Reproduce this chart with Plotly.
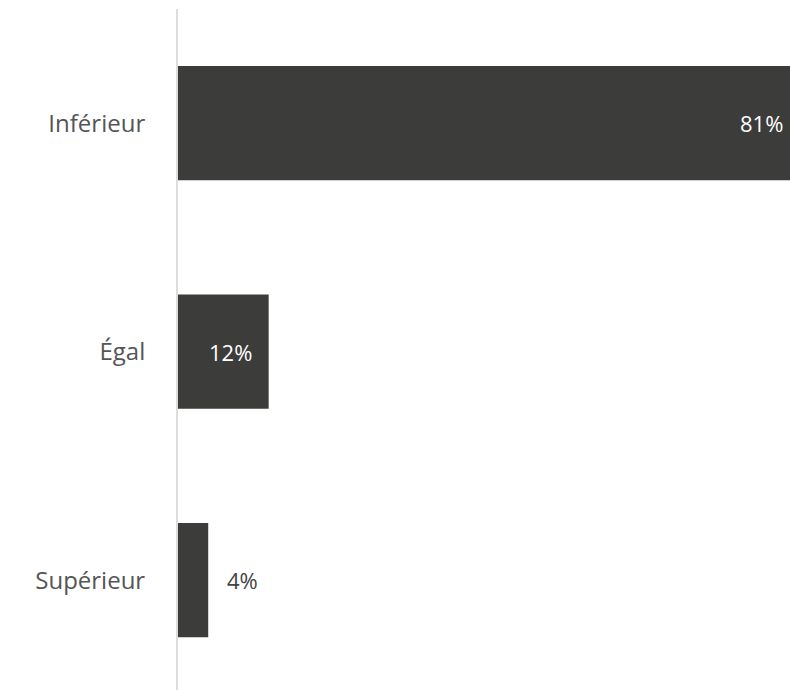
import plotly.graph_objects as go

categories = ["Inférieur", "Égal", "Supérieur"]
values = [81, 12, 4]
label_inside = [True, True, False]
label_shift = [-5, -15, 17]

bar_color = "#3c3c3a"
font_family = "'Open Sans', 'Noto Sans', sans-serif"

fig = go.Figure()
fig.add_trace(go.Bar(
    x=values, y=categories, orientation="h",
    marker=dict(color=bar_color, line=dict(width=0)),
    hoverinfo="skip",
))

for cat, v, inside, sh in zip(categories, values, label_inside, label_shift):
    fig.add_annotation(
        x=v, y=cat, text=f"{v}%", showarrow=False,
        xanchor="right" if inside else "left", xshift=sh,
        font=dict(family=font_family, size=22, color="#ffffff" if inside else "#444444"),
    )

fig.update_layout(
    width=790, height=690,
    margin=dict(l=178, r=0, t=9, b=0),
    paper_bgcolor="white", plot_bgcolor="white",
    bargap=0.5, showlegend=False,
    font=dict(family=font_family, size=22, color="#555555"),
    xaxis=dict(range=[0, 81], visible=False, fixedrange=True),
    yaxis=dict(
        categoryorder="array", categoryarray=categories,
        range=[2.481, -0.5],
        showline=True, linecolor="#dddddd", linewidth=2,
        showgrid=False, zeroline=False, ticks="",
        ticklabelstandoff=26,
        tickfont=dict(family=font_family, size=24, color="#555555"),
    ),
)

post = (
    "document.body.style.margin='0';"
    "document.body.style.padding='0';"
    "document.body.style.overflow='hidden';"
    "var gd=document.getElementById('{plot_id}');"
    "Plotly.relayout(gd,{width:790,height:690});"
)

fig.write_html("out.html", config={"responsive": False, "displayModeBar": False}, post_script=post)
